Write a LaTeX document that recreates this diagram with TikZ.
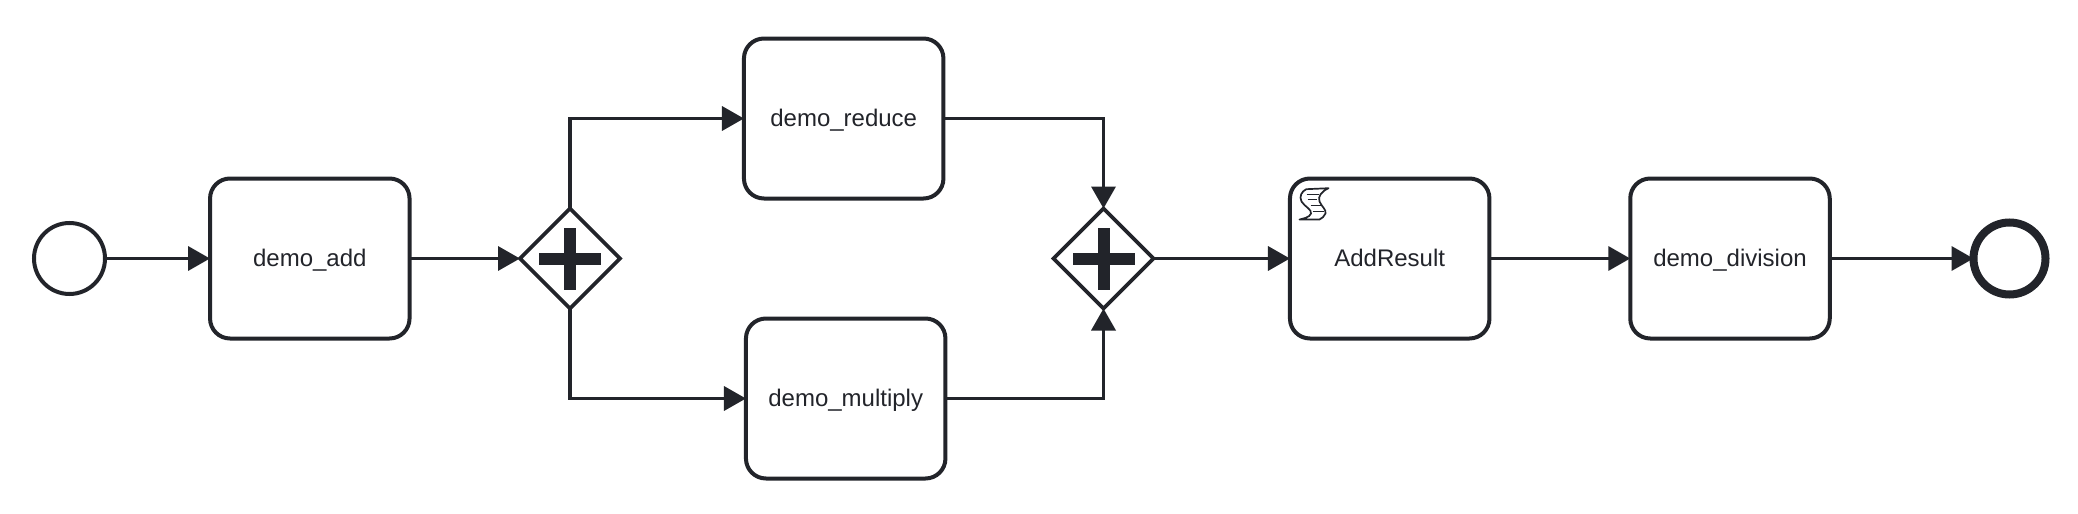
\documentclass[tikz,border=0pt]{standalone}
\usepackage{fontspec}
\setmainfont{Liberation Sans}
\usetikzlibrary{shapes.geometric,arrows.meta,positioning}
\definecolor{ink}{HTML}{22242A}
\tikzset{
  x=1pt,y=-1pt,
  flow/.style={draw=ink,line width=3.6pt,-{Triangle[length=22pt,width=24pt,fill=ink]}},
  task/.style={draw=ink,line width=4pt,rounded corners=20pt,minimum width=199.5pt,minimum height=160pt,inner sep=0pt,outer sep=0pt,font=\fontsize{24}{28}\selectfont,text=ink,fill=white,text height=20pt,text depth=5pt},
  gate/.style={draw=ink,line width=3.6pt,diamond,aspect=1,minimum width=100pt,minimum height=100pt,inner sep=0pt,outer sep=0pt,fill=white},
  plusmark/.style={fill=ink,draw=none},
}
\begin{document}
\begin{tikzpicture}
\useasboundingbox (0,0) rectangle (2078,514);
\node[circle,draw=ink,line width=4pt,minimum size=71pt,inner sep=0pt,outer sep=0pt] (start) at (69.5,258.5) {};
\node[task] (add) at (309.8,258.5) {demo\_add};
\node[gate] (g1) at (570,258.5) {};
\node[task] (reduce) at (843.7,118.5) {demo\_reduce};
\node[task] (multiply) at (845.7,398.5) {demo\_multiply};
\node[gate] (g2) at (1103.5,258.5) {};
\node[task] (result) at (1389.7,258.5) {AddResult};
\node[task] (division) at (1730,258.5) {demo\_division};
\node[circle,draw=ink,line width=8pt,minimum size=72pt,inner sep=0pt,outer sep=0pt] (end) at (2009.5,258.5) {};
% plus marks
\fill[plusmark] (g1.center) ++(-31,-6) rectangle ++(62,12);
\fill[plusmark] (g1.center) ++(-6,-31) rectangle ++(12,62);
\fill[plusmark] (g2.center) ++(-31,-6) rectangle ++(62,12);
\fill[plusmark] (g2.center) ++(-6,-31) rectangle ++(12,62);
% connectors
\draw[flow] (start) -- (add);
\draw[flow] (add) -- (g1);
\draw[flow] (g1.north) |- (reduce.west);
\draw[flow] (g1.south) |- (multiply.west);
\draw[flow] (reduce.east) -| (g2.north);
\draw[flow] (multiply.east) -| (g2.south);
\draw[flow] (g2) -- (result);
\draw[flow] (result) -- (division);
\draw[flow] (division) -- (end);
% script icon
\begin{scope}[shift={(1299.5,187.5)},draw=ink,line width=1.7pt,line join=round]
\draw (6.7,1.7) -- (29,0.7) .. controls (22,4) and (18,9) .. (20,14) .. controls (22,19) and (27,22) .. (26,26) .. controls (25,29) and (22,31) .. (20,32) -- (0,32) .. controls (4,31) and (10,30) .. (11.5,26) .. controls (12.5,22) and (5,19) .. (2,14) .. controls (-0.5,9) and (2,4) .. (6.7,1.7) -- cycle;
\draw (7,7) -- (19,7);
\draw (8,12) -- (17,12);
\draw (11,18) -- (22,18);
\draw (13,24) -- (24,24);
\end{scope}
\end{tikzpicture}
\end{document}
